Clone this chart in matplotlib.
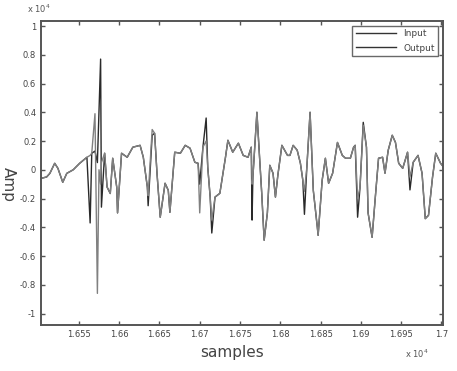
import matplotlib
matplotlib.use("Agg")
import matplotlib.pyplot as plt

# samples (x) and amplitudes (in units of 1e4)
samples = [16503, 16510, 16514, 16520, 16524, 16530, 16535, 16543, 16551, 16560,
           16564, 16566, 16570, 16573, 16575, 16577, 16578, 16582, 16585, 16589,
           16592, 16597, 16598, 16603, 16610, 16617, 16626, 16630, 16635, 16636,
           16641, 16644, 16647, 16651, 16657, 16661, 16663, 16669, 16676, 16682,
           16688, 16694, 16698, 16700, 16704, 16708, 16710, 16713, 16715, 16719,
           16725, 16732, 16735, 16741, 16748, 16754, 16760, 16764, 16765, 16766,
           16771, 16774, 16777, 16780, 16784, 16787, 16791, 16794, 16797, 16802,
           16809, 16812, 16816, 16821, 16825, 16828, 16830, 16833, 16837, 16841,
           16846, 16847, 16852, 16856, 16860, 16865, 16871, 16877, 16881, 16887,
           16891, 16893, 16896, 16899, 16903, 16907, 16909, 16914, 16918, 16922,
           16927, 16930, 16934, 16939, 16943, 16947, 16952, 16958, 16961, 16965,
           16971, 16976, 16980, 16984, 16989, 16993, 16999, 17003]

input_amp = [-0.06, -0.05, -0.025, 0.045, 0.01, -0.087, -0.025, 0.0, 0.045, 0.087,
             -0.37, 0.115, 0.13, 0.05, 0.41, 0.77, -0.26, 0.115, -0.12, -0.165,
             0.08, -0.12, -0.30, 0.115, 0.087, 0.157, 0.17, 0.087, -0.12, -0.25,
             0.24, 0.254, -0.025, -0.33, -0.094, -0.143, -0.296, 0.122, 0.115, 0.17,
             0.15, 0.052, 0.045, -0.10, 0.157, 0.36, 0.017, -0.19, -0.44, -0.19,
             -0.164, 0.087, 0.205, 0.122, 0.185, 0.10, 0.087, 0.157, -0.35, -0.052,
             0.40, 0.115, -0.164, -0.49, -0.30, 0.031, -0.024, -0.19, -0.038, 0.17,
             0.10, 0.10, 0.17, 0.136, 0.045, -0.073, -0.31, 0.017, 0.40, -0.143,
             -0.40, -0.456, -0.073, 0.08, -0.094, -0.024, 0.19, 0.10, 0.08, 0.08,
             0.157, 0.17, -0.33, -0.122, 0.33, 0.157, -0.30, -0.47, -0.19, 0.08,
             0.087, -0.024, 0.136, 0.24, 0.19, 0.045, 0.01, 0.122, -0.14, 0.052,
             0.10, -0.024, -0.34, -0.317, -0.052, 0.115, 0.045, 0.017]

output_amp = [-0.06, -0.05, -0.025, 0.045, 0.01, -0.087, -0.025, 0.0, 0.045, 0.087,
              0.10, 0.115, 0.39, -0.86, 0.0, -0.10, 0.05, 0.115, -0.12, -0.165,
              0.08, -0.12, -0.30, 0.115, 0.087, 0.157, 0.17, 0.087, -0.12, -0.18,
              0.28, 0.254, -0.025, -0.33, -0.094, -0.143, -0.296, 0.122, 0.115, 0.17,
              0.15, 0.052, 0.045, -0.30, 0.157, 0.20, 0.017, -0.19, -0.35, -0.19,
              -0.164, 0.087, 0.205, 0.122, 0.185, 0.10, 0.087, 0.157, -0.10, -0.052,
              0.40, 0.115, -0.164, -0.49, -0.30, 0.031, -0.024, -0.19, -0.038, 0.17,
              0.10, 0.10, 0.17, 0.136, 0.045, -0.073, -0.15, 0.017, 0.40, -0.143,
              -0.40, -0.456, -0.073, 0.08, -0.094, -0.024, 0.19, 0.10, 0.08, 0.08,
              0.157, 0.17, -0.20, -0.122, 0.31, 0.157, -0.30, -0.47, -0.19, 0.08,
              0.087, -0.024, 0.136, 0.24, 0.19, 0.045, 0.01, 0.122, -0.05, 0.052,
              0.10, -0.024, -0.34, -0.317, -0.052, 0.115, 0.045, 0.017]

x_ticks = [16550, 16600, 16650, 16700, 16750, 16800, 16850, 16900, 16950, 17000]
x_tick_labels = ["1.655", "1.66", "1.665", "1.67", "1.675", "1.68", "1.685", "1.69", "1.695", "1.7"]
y_ticks = [-1, -0.8, -0.6, -0.4, -0.2, 0, 0.2, 0.4, 0.6, 0.8, 1]
y_tick_labels = ["-1", "-0.8", "-0.6", "-0.4", "-0.2", "0", "0.2", "0.4", "0.6", "0.8", "1"]

fig = plt.figure(figsize=(4.57, 3.71), dpi=100)
ax = fig.add_axes([41/457, 1-325/371, (443-41)/457, (325-21)/371])

ax.plot(samples, input_amp, color="#2a2a2a", lw=1.0, label="Input")
ax.plot(samples, output_amp, color="#808080", lw=1.0, label="Output")

ax.set_xlim(16503, 17002)
ax.set_ylim(-1.08, 1.035)
ax.set_xticks(x_ticks)
ax.set_xticklabels(x_tick_labels)
ax.set_yticks(y_ticks)
ax.set_yticklabels(y_tick_labels)

ax.tick_params(direction="in", top=True, right=True, length=3, width=1,
               labelsize=6, colors="#555555", labelcolor="#444444")
for s in ax.spines.values():
    s.set_color("#555555")
    s.set_linewidth(1.4)

leg = ax.legend(loc="upper right", fontsize=6.5, frameon=True, fancybox=False,
                handlelength=4.5, borderaxespad=0.5, labelspacing=0.6,
                edgecolor="#444444")
leg.get_frame().set_linewidth(1.0)
for t in leg.get_texts():
    t.set_color("#444444")
for l in leg.get_lines():
    l.set_color("#333333")

fig.text(232/457, 1-353/371, "samples", ha="center", va="center", fontsize=11, color="#444444")
fig.text(8/457, 1-185/371, "Amp", ha="center", va="center", rotation=-90, fontsize=11, color="#444444")
fig.text(27/457, 1-9/371, r"x 10$^4$", ha="left", va="center", fontsize=6, color="#555555")
fig.text(405/457, 1-354/371, r"x 10$^4$", ha="left", va="center", fontsize=6, color="#555555")

fig.savefig("out.png", dpi=100)
